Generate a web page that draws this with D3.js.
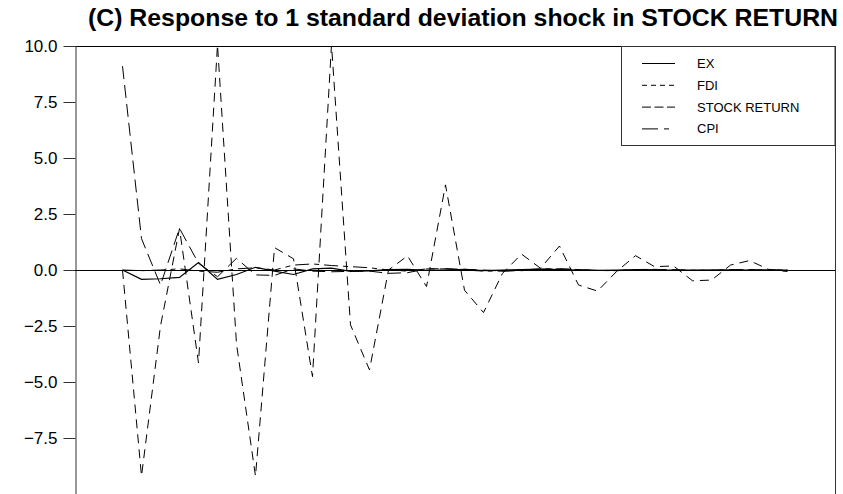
<!DOCTYPE html>
<html>
<head>
<meta charset="utf-8">
<script src="https://cdn.jsdelivr.net/npm/d3@7"></script>
<style>
  html, body { margin: 0; padding: 0; background: #fff; }
  svg { display: block; font-family: "Liberation Sans", Arial, sans-serif; }
</style>
</head>
<body>
<svg id="chart" width="843" height="494"></svg>
<script>
// Impulse responses over 36 periods
const periods = d3.range(1, 37);

const exValues = [0, -0.42, -0.39, -0.33, 0.33, -0.42, -0.2, 0.12, -0.05, -0.2,
  0.05, 0.08, -0.06, -0.04, 0.02, 0.03, -0.02, 0.0, 0.03, -0.03,
  0.0, 0.02, 0.04, 0.02, 0.0, -0.02, 0.0, 0.02, 0.0, -0.01,
  0.0, 0.0, 0.01, 0.0, 0.0, 0.0];

const fdiValues = [0, -9.2, -2.5, 1.85, -4.15, 10.05, -3.3, -9.2, 1.0, 0.5,
  -4.76, 10.05, -2.45, -4.46, 0.0, 0.63, -0.74, 3.8, -0.9, -1.9,
  -0.15, 0.71, 0.08, 1.07, -0.67, -0.94, -0.07, 0.64, 0.15, 0.18,
  -0.48, -0.45, 0.22, 0.42, 0.03, -0.07];

const stockValues = [9.1, 1.4, -0.67, 1.86, 0.3, -0.3, 0.52, -0.22, -0.24, 0.05,
  -0.05, -0.08, -0.06, -0.05, -0.15, -0.12, 0.05, 0.06, 0.03, 0.0,
  -0.05, -0.03, 0.03, 0.05, 0.02, -0.02, -0.03, 0.02, 0.03, 0.0,
  -0.02, -0.01, 0.01, 0.02, 0.0, 0.0];

const cpiValues = [0, -0.03, 0.0, 0.05, -0.05, -0.1, 0.05, 0.1, 0.0, 0.22,
  0.27, 0.2, 0.15, 0.1, 0.0, -0.05, 0.05, 0.05, 0.0, -0.05,
  -0.05, 0.0, 0.05, 0.05, 0.02, -0.02, -0.03, 0.0, 0.02, 0.01,
  -0.01, -0.01, 0.0, 0.01, 0.0, 0.0];

const seriesNames = ["EX", "FDI", "STOCK RETURN", "CPI"];
const yTickValues = [10.0, 7.5, 5.0, 2.5, 0.0, -2.5, -5.0, -7.5];
const titleText = "(C) Response to 1 standard deviation shock in STOCK RETURN";

const seriesList = [
  { name: seriesNames[0], values: exValues, dash: null, legendDash: null, width: 1.2 },
  { name: seriesNames[1], values: fdiValues, dash: "9,6", legendDash: "5,4", width: 1 },
  { name: seriesNames[2], values: stockValues, dash: "13,6", legendDash: "9,3.5", width: 1 },
  { name: seriesNames[3], values: cpiValues, dash: "14,5,5,5", legendDash: "16,6,5,20", width: 1 }
];

const svg = d3.select("#chart");
const plotLeft = 75, plotRight = 835, plotTop = 46, plotBottom = 494;

svg.append("rect").attr("width", 843).attr("height", 494).attr("fill", "#fff");

const x = d3.scaleLinear().domain([-1.5, 38.5]).range([plotLeft, plotRight]);
const y = d3.scaleLinear().domain([-10, 10]).range([plotBottom, plotTop]);

// Title (condensed bold)
svg.append("text")
  .attr("x", 88).attr("y", 26)
  .attr("font-size", 24.5).attr("font-weight", "bold")
  .attr("textLength", 750).attr("lengthAdjust", "spacingAndGlyphs")
  .attr("fill", "#000")
  .text(titleText);

// Frame: top and right edges
svg.append("line").attr("x1", plotLeft).attr("x2", plotRight + 0.5)
  .attr("y1", plotTop + 0.5).attr("y2", plotTop + 0.5)
  .attr("stroke", "#000").attr("stroke-width", 1);
svg.append("line").attr("x1", plotRight + 0.5).attr("x2", plotRight + 0.5)
  .attr("y1", plotTop).attr("y2", plotBottom)
  .attr("stroke", "#333").attr("stroke-width", 1);

// Left axis; the 10.0 tick sits on the frame corner without a mark
const fmt = d3.format(".1f");
const yAxis = d3.axisLeft(y).tickValues(yTickValues).tickSize(12).tickFormat(fmt);
const gy = svg.append("g").attr("transform", `translate(${plotLeft + 0.5},0)`).call(yAxis);
gy.select(".domain").attr("stroke", "#333");
gy.selectAll(".tick line").attr("stroke", "#333")
  .attr("opacity", d => d === 10 ? 0 : 1);
gy.selectAll(".tick text").attr("font-size", 17).attr("fill", "#000").attr("x", -18)
  .attr("font-family", "Liberation Sans, Arial, sans-serif");

// Zero reference line across the plot
svg.append("line").attr("x1", plotLeft).attr("x2", plotRight)
  .attr("y1", Math.round(y(0)) + 0.5).attr("y2", Math.round(y(0)) + 0.5)
  .attr("stroke", "#000").attr("stroke-width", 1);

// Clip for series
svg.append("clipPath").attr("id", "plotClip").append("rect")
  .attr("x", plotLeft).attr("y", plotTop).attr("width", plotRight - plotLeft)
  .attr("height", plotBottom - plotTop);

const line = d3.line().x((d, i) => x(periods[i])).y(d => y(d));

const gLines = svg.append("g").attr("clip-path", "url(#plotClip)");
seriesList.forEach(s => {
  gLines.append("path")
    .datum(s.values)
    .attr("d", line)
    .attr("fill", "none")
    .attr("stroke", "#000")
    .attr("stroke-width", s.width)
    .attr("stroke-dasharray", s.dash);
});

// Legend
const lg = svg.append("g");
lg.append("rect").attr("x", 621.5).attr("y", plotTop + 0.5)
  .attr("width", plotRight - 621.5).attr("height", 99)
  .attr("fill", "#fff").attr("stroke", "#333").attr("stroke-width", 1);
seriesList.forEach((s, i) => {
  const yy = 63.5 + i * 21.8;
  lg.append("line").attr("x1", 642).attr("x2", 675).attr("y1", yy).attr("y2", yy)
    .attr("stroke", "#000").attr("stroke-width", 1)
    .attr("stroke-dasharray", s.legendDash);
  lg.append("text").attr("x", 697).attr("y", yy).attr("dy", "0.35em")
    .attr("font-size", 13).attr("fill", "#000").text(s.name);
});
</script>
</body>
</html>
